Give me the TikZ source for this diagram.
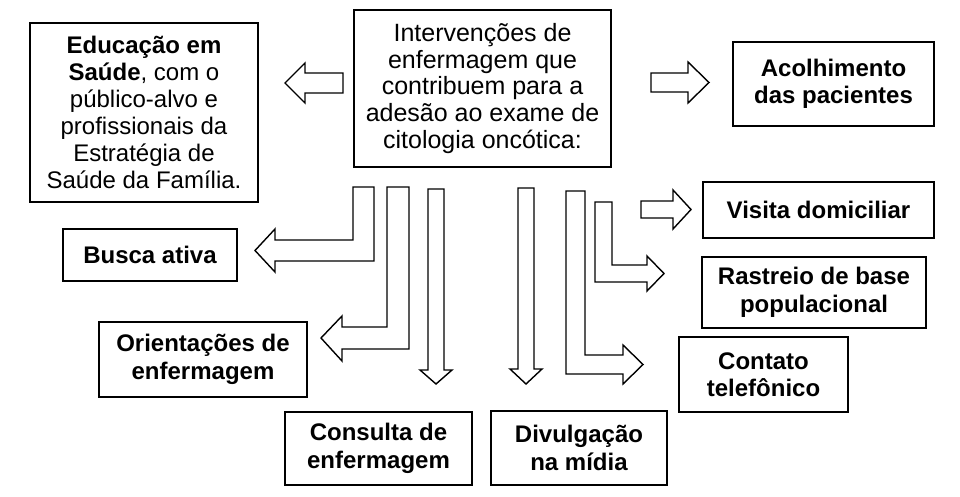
\documentclass[tikz,border=0pt]{standalone}
\usepackage{fontspec}
\setmainfont{Liberation Sans}
\begin{document}
\begin{tikzpicture}[x=1pt,y=-1pt,
  box/.style={draw, line width=2pt, inner sep=0pt, align=center,
    font=\fontsize{24}{27.5}\selectfont\bfseries},
  plainbox/.style={box, font=\fontsize{24}{27}\selectfont},
  blockarrow/.style={draw, fill=white, line width=1.4pt, line join=miter}]
\useasboundingbox (0,0) rectangle (960,497);
\fill[white] (0,0) rectangle (960,497);

% boxes
\node[plainbox, font=\fontsize{25}{26.7}\selectfont, minimum width=257pt, minimum height=157pt] (central) at (482.5,88.5)
  {Intervenções de\\enfermagem que\\contribuem para a\\adesão ao exame de\\citologia oncótica:};
\node[plainbox, minimum width=228pt, minimum height=179pt] (educ) at (144,112.5)
  {\textbf{Educação em}\\\textbf{Saúde}, com o\\público-alvo e\\profissionais da\\Estratégia de\\Saúde da Família.};
\node[box, minimum width=201pt, minimum height=84pt] (acol) at (833.5,84)
  {Acolhimento\\das pacientes};
\node[box, minimum width=231pt, minimum height=56pt] (visita) at (818.5,210)
  {Visita domiciliar};
\node[box, minimum width=224pt, minimum height=71pt] (rastreio) at (814,292.5)
  {Rastreio de base\\populacional};
\node[box, minimum width=169pt, minimum height=75pt] (contato) at (763.5,374.5)
  {Contato\\telefônico};
\node[box, minimum width=174pt, minimum height=52pt] (busca) at (150,255)
  {Busca ativa};
\node[box, minimum width=208pt, minimum height=75pt] (orient) at (203,359.5)
  {Orientações de\\enfermagem};
\node[box, minimum width=187pt, minimum height=73pt] (consulta) at (378.5,448.5)
  {Consulta de\\enfermagem};
\node[box, minimum width=176pt, minimum height=74pt] (divulg) at (579,448)
  {Divulgação\\na mídia};

% block arrows
\draw[blockarrow] (343,73) -- (305,73) -- (305,63) -- (285,83) -- (305,103) -- (305,93) -- (343,93) -- cycle;
\draw[blockarrow] (651,73) -- (688,73) -- (688,62) -- (709,82.5) -- (688,103) -- (688,92) -- (651,92) -- cycle;
\draw[blockarrow] (641,201) -- (673,201) -- (673,190) -- (691,209.5) -- (673,229) -- (673,218) -- (641,218) -- cycle;
\draw[blockarrow] (353,187) -- (353,240) -- (275,240) -- (275,229) -- (255,250.5) -- (275,272) -- (275,261) -- (374,261) -- (374,187) -- cycle;
\draw[blockarrow] (387,187) -- (387,327) -- (342,327) -- (342,316) -- (321,338) -- (342,361) -- (342,349) -- (409,349) -- (409,187) -- cycle;
\draw[blockarrow] (428,189) -- (428,370) -- (420,370) -- (436,384) -- (452,370) -- (444,370) -- (444,189) -- cycle;
\draw[blockarrow] (518,188) -- (518,369) -- (510,369) -- (526,384) -- (542,369) -- (534,369) -- (534,188) -- cycle;
\draw[blockarrow] (566,191) -- (566,374) -- (623,374) -- (623,384) -- (643,364.5) -- (623,345) -- (623,355) -- (585,355) -- (585,191) -- cycle;
\draw[blockarrow] (595,202) -- (595,282) -- (647,282) -- (647,291) -- (664,273.5) -- (647,256) -- (647,265) -- (612,265) -- (612,202) -- cycle;
\end{tikzpicture}
\end{document}
